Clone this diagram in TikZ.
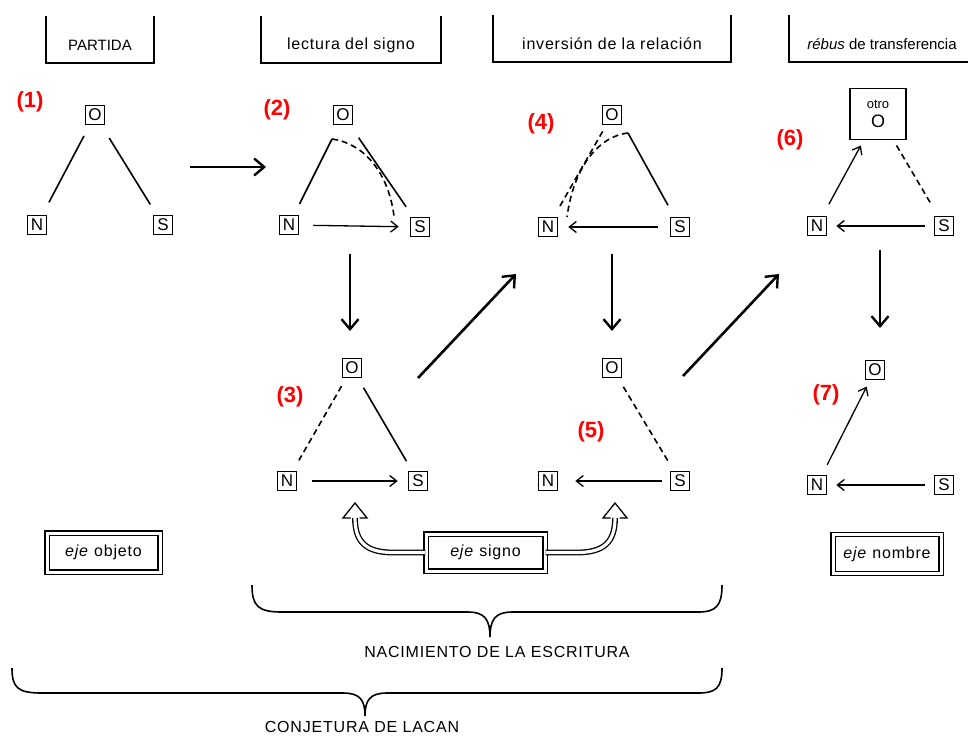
\documentclass[tikz,border=0pt]{standalone}
\usepackage{fontspec}
\setmainfont{Liberation Sans}
\newfontfamily\spacedfont[LetterSpace=5]{Liberation Sans}
\usetikzlibrary{arrows.meta,calc}
\begin{document}
\begin{tikzpicture}[x=1pt,y=-1pt,
  lett/.style={draw,line width=1.6pt,minimum size=19pt,inner sep=0pt,font=\fontsize{17}{17}\selectfont},
  lbl/.style={text=red,font=\fontsize{22}{22}\selectfont\bfseries},
  big/.style={line width=2.6pt,-{Straight Barb[length=10pt,width=17pt,line width=2.4pt]}},
  small/.style={line width=1.3pt,-{Straight Barb[length=7pt,width=11pt,line width=1.3pt]}},
  edge/.style={line width=1.6pt},
  dedge/.style={line width=1.6pt,dash pattern=on 6pt off 4pt},
  hdr/.style={font=\spacedfont\fontsize{16}{16}\selectfont},
  hdrplain/.style={font=\fontsize{15}{15}\selectfont},
  hline/.style={line width=1.5pt},
  ejebox/.style={draw,line width=1.3pt,double distance=3pt,inner sep=0pt,font=\spacedfont\fontsize{16}{16}\selectfont},
  hollow/.style={line width=1.3pt,double distance=3.2pt},
  brace/.style={line width=1.6pt},
  btext/.style={font=\spacedfont\fontsize{16}{16}\selectfont}
]
\useasboundingbox (0,0) rectangle (968,737);

% ---------- headers ----------
\draw[hline] (46,16) -- (46,63) -- (154,63) -- (154,16);
\node[hdrplain] (h1) at (100,45) {PARTIDA};
\draw[hline] (261,16) -- (261,63) -- (441,63) -- (441,16);
\node[hdr] (h2) at (351,45) {lectura del signo};
\draw[hline] (493,15) -- (493,62) -- (731,62) -- (731,15);
\node[hdr] (h3) at (612,44) {inversión de la relación};
\draw[hline] (789,15) -- (789,62) -- (968,62);
\node[hdrplain] (h4) at (882,44) {\textit{rébus} de transferencia};

% ---------- red labels ----------
\node[lbl] (l1) at (30,102) {(1)};
\node[lbl] (l2) at (277,110) {(2)};
\node[lbl] (l3) at (290,397) {(3)};
\node[lbl] (l4) at (541,124) {(4)};
\node[lbl] (l5) at (591,432) {(5)};
\node[lbl] (l6) at (790,140) {(6)};
\node[lbl] (l7) at (826,395) {(7)};

% ---------- (1) ----------
\node[lett] (o1) at (95,115) {O};
\node[lett] (n1) at (37,225) {N};
\node[lett] (s1) at (163,225) {S};
\draw[edge,shorten <=12pt,shorten >=14pt] (o1) -- (n1);
\draw[edge,shorten <=15pt,shorten >=12pt] (o1) -- (s1);

% ---------- (2) ----------
\node[lett] (o2) at (343,115) {O};
\node[lett] (n2) at (289,225) {N};
\node[lett] (s2) at (420,227) {S};
\coordinate (c2) at (332,139);
\coordinate (d2) at (394,216);
\draw[edge,shorten >=12pt] (c2) -- (n2);
\draw[dedge] (c2) .. controls (362,143) and (388,170) .. (d2);
\draw[edge,shorten <=15pt,shorten >=12pt] (o2) -- (s2);
\draw[small,shorten <=14pt,shorten >=11pt] (n2) -- (s2);

% ---------- (3) ----------
\node[lett] (o3) at (352,368) {O};
\node[lett] (n3) at (287,481) {N};
\node[lett] (s3) at (418,481) {S};
\draw[dedge,shorten <=9pt,shorten >=12pt] (o3) -- (n3);
\draw[edge,shorten <=11pt,shorten >=11pt] (o3) -- (s3);
\draw[small,shorten <=15pt,shorten >=10pt] (n3) -- (s3);

% ---------- (4) ----------
\node[lett] (o4) at (612,115) {O};
\node[lett] (n4) at (548,227) {N};
\node[lett] (s4) at (680,227) {S};
\coordinate (c4) at (628,133);
\coordinate (d4) at (567,217);
\draw[dedge,shorten <=7pt,shorten >=10pt] (o4) -- (n4);
\draw[dedge] (c4) .. controls (600,136) and (574,165) .. (d4);
\draw[edge,shorten >=13pt] (c4) -- (s4);
\draw[small,shorten <=12pt,shorten >=10pt] (s4) -- (n4);

% ---------- (5) ----------
\node[lett] (o5) at (612,368) {O};
\node[lett] (n5) at (548,481) {N};
\node[lett] (s5) at (680,481) {S};
\draw[dedge,shorten <=10pt,shorten >=9pt] (o5) -- (s5);
\draw[small,shorten <=8pt,shorten >=17pt] (s5) -- (n5);

% ---------- (6) ----------
\node[draw,line width=1.6pt,minimum width=56pt,minimum height=51pt,inner sep=0pt,align=center,
      font=\fontsize{18}{20}\selectfont] (o6) at (878,114)
  {{\fontsize{13}{14}\selectfont otro}\\[-1pt]O};
\node[lett] (n6) at (817,226) {N};
\node[lett] (s6) at (944,226) {S};
\draw[small,shorten <=13pt,shorten >=6pt] (n6) -- (o6);
\draw[dedge,shorten <=6pt,shorten >=13pt] (o6) -- (s6);
\draw[small,shorten <=9pt,shorten >=9pt] (s6) -- (n6);

% ---------- (7) ----------
\node[lett] (o7) at (875,370) {O};
\node[lett] (n7) at (817,485) {N};
\node[lett] (s7) at (944,485) {S};
\draw[small,shorten <=11pt,shorten >=7pt] (n7) -- (o7);
\draw[small,shorten <=9pt,shorten >=9pt] (s7) -- (n7);

% ---------- big arrows ----------
\coordinate (a1s) at (190,167); \coordinate (a1e) at (266,167);
\coordinate (a2s) at (350,254); \coordinate (a2e) at (350,331);
\coordinate (a3s) at (418,378); \coordinate (a3e) at (516,274);
\coordinate (a4s) at (612,254); \coordinate (a4e) at (612,331);
\coordinate (a5s) at (683,376); \coordinate (a5e) at (779,274);
\coordinate (a6s) at (880,250); \coordinate (a6e) at (880,328);
\draw[big] (a1s) -- (a1e);
\draw[big] (a2s) -- (a2e);
\draw[big] (a3s) -- (a3e);
\draw[big] (a4s) -- (a4e);
\draw[big] (a5s) -- (a5e);
\draw[big] (a6s) -- (a6e);

% ---------- eje boxes ----------
\node[ejebox,minimum width=113pt,minimum height=39pt] (eobj) at (103.5,552.5) {\textit{eje} objeto};
\node[ejebox,minimum width=119pt,minimum height=37pt] (esig) at (485.5,552.5) {\textit{eje} signo};
\node[ejebox,minimum width=108pt,minimum height=39pt] (enom) at (887,554) {\textit{eje} nombre};

% hollow arrows
\coordinate (hl) at (355,518);
\coordinate (hr) at (615,518);
\draw[hollow] (esig.west) -- (393,552.5) .. controls (366,552.5) and (355,542) .. (hl);
\draw[hollow] (esig.east) -- (577,552.5) .. controls (604,552.5) and (615,542) .. (hr);
\draw[line width=1.3pt,line join=miter] ($(hl)+(-4.5,0)$) -- ($(hl)+(-12,0)$) -- ($(hl)+(0,-15)$) -- ($(hl)+(12,0)$) -- ($(hl)+(4.5,0)$);
\draw[line width=1.3pt,line join=miter] ($(hr)+(-4.5,0)$) -- ($(hr)+(-12,0)$) -- ($(hr)+(0,-15)$) -- ($(hr)+(12,0)$) -- ($(hr)+(4.5,0)$);

% ---------- braces ----------
\draw[brace] (252,585) .. controls (252,606) and (258,612) .. (282,612) -- (468,612)
  .. controls (485,612) and (490,620) .. (490,637)
  .. controls (490,620) and (495,612) .. (512,612) -- (698,612)
  .. controls (716,612) and (722,606) .. (722,585);
\node[btext] (t1) at (497,652) {NACIMIENTO DE LA ESCRITURA};

\draw[brace] (12,668) .. controls (12,688) and (18,693) .. (42,693) -- (343,693)
  .. controls (360,693) and (365,700) .. (365,716)
  .. controls (365,700) and (370,693) .. (387,693) -- (698,693)
  .. controls (716,693) and (722,688) .. (722,668);
\node[btext] (t2) at (362,727) {CONJETURA DE LACAN};
\end{tikzpicture}
\end{document}
